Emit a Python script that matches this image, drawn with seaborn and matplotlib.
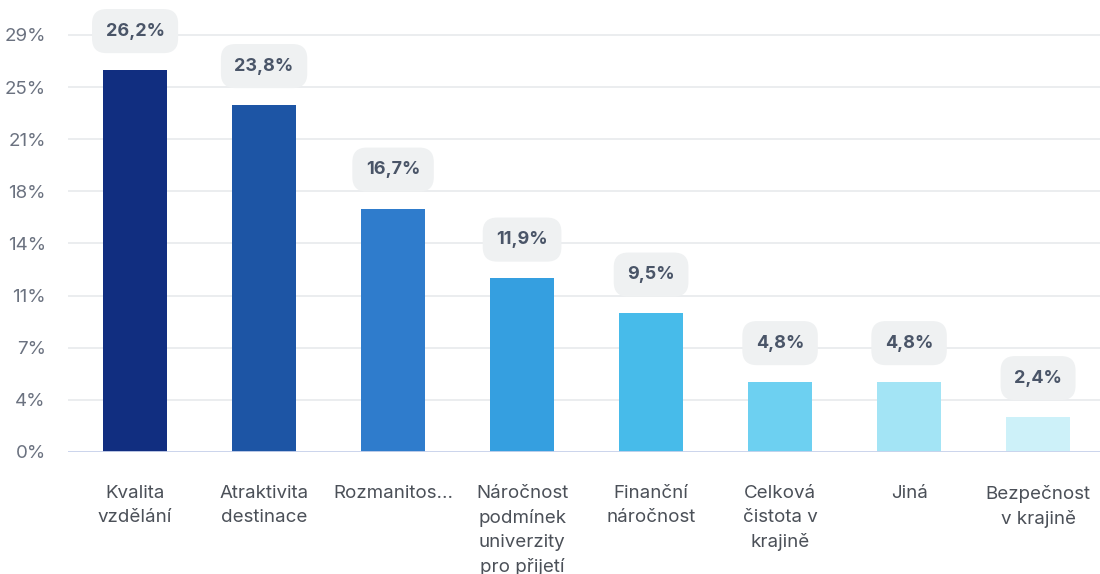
import matplotlib
matplotlib.use("Agg")
import matplotlib.pyplot as plt
import numpy as np
import pandas as pd
import seaborn as sns

# data
categories = ["Kvalita\nvzdělání", "Atraktivita\ndestinace", "Rozmanitos...",
              "Náročnost\npodmínek\nuniverzity\npro přijetí", "Finanční\nnáročnost",
              "Celková\nčistota v\nkrajině", "Jiná", "Bezpečnost\nv krajině"]
values = [26.2, 23.8, 16.7, 11.9, 9.5, 4.8, 4.8, 2.4]
value_labels = ["26,2%", "23,8%", "16,7%", "11,9%", "9,5%", "4,8%", "4,8%", "2,4%"]
tick_values = np.linspace(0, 28.6, 9)
tick_labels = ["0%", "4%", "7%", "11%", "14%", "18%", "21%", "25%", "29%"]
colors = ["#112e80", "#1d55a5", "#2f7ccc", "#359fe0", "#47bbea",
          "#6dd0f1", "#a3e4f5", "#cdf1f9"]

df = pd.DataFrame({"category": categories, "value": values})

sns.set_style("white")
plt.rcParams["font.family"] = ["Inter", "DejaVu Sans"]

fig = plt.figure(figsize=(11, 5.74), dpi=100)
ax = fig.add_axes([68 / 1100, 122 / 574, 1032 / 1100, 452 / 574])

sns.barplot(data=df, x="category", y="value", hue="category", palette=colors,
            saturation=1, legend=False, width=0.49, ax=ax, zorder=3,
            edgecolor="none")

ax.set_ylim(0, 31.0)
ax.set_xlim(-0.52, 7.48)
ax.set_yticks(tick_values)
ax.set_yticklabels(tick_labels)
ax.yaxis.grid(True, color="#e6e8eb", linewidth=1.1, zorder=0)
ax.axhline(0, color="#c9d3ec", linewidth=1.3, zorder=4)
for s in ax.spines.values():
    s.set_visible(False)
ax.tick_params(axis="y", length=0, pad=16, labelsize=13.5, labelcolor="#6b7280")
ax.tick_params(axis="x", length=0, pad=24, labelsize=13.5, labelcolor="#4b5058")
for lbl in ax.get_xticklabels():
    lbl.set_linespacing(1.5)
    lbl.set_verticalalignment("top")
ax.set_xlabel("")
ax.set_ylabel("")

for i, (v, t) in enumerate(zip(values, value_labels)):
    ax.annotate(t, (i, v), xytext=(0, 28), textcoords="offset points",
                ha="center", va="center", fontsize=13, fontweight="bold",
                color="#4a5568", zorder=5, annotation_clip=False,
                bbox=dict(boxstyle="round,pad=0.75,rounding_size=0.8",
                          fc="#eff1f2", ec="none"))

fig.savefig("out.png", dpi=100, facecolor="white")
